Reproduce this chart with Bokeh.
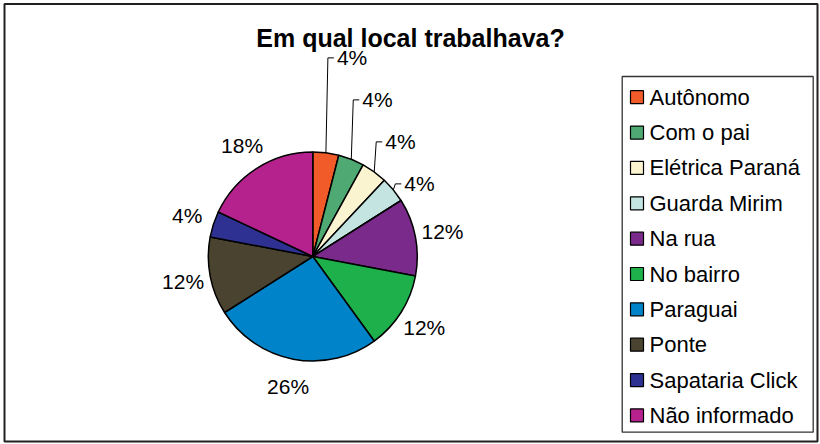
import math
from bokeh.plotting import figure
from bokeh.models import Range1d, ColumnDataSource
from bokeh.core.properties import value
from bokeh.embed import file_html
from bokeh.resources import INLINE

# ---------------- data ----------------
title = "Em qual local trabalhava?"
categories = ["Autônomo", "Com o pai", "Elétrica Paraná", "Guarda Mirim", "Na rua",
              "No bairro", "Paraguai", "Ponte", "Sapataria Click", "Não informado"]
percent = [4, 4, 4, 4, 12, 12, 26, 12, 4, 18]
colors = ["#F15A29", "#4FA972", "#FBF4D0", "#C4E4E1", "#7A2A8B",
          "#1EB04B", "#0083C9", "#4A4330", "#2E3192", "#B6228D"]

# ---------------- layout ----------------
W, H = 820, 444
FONT = "Liberation Sans"
CX, CY, R = 312.3, H - 256.0, 104.5
LABEL_R = R + 27.5

p = figure(width=W, height=H, x_range=Range1d(0, W), y_range=Range1d(0, H),
           output_backend="svg", toolbar_location=None, min_border=0,
           x_axis_location=None, y_axis_location=None)
p.grid.visible = False
p.outline_line_color = None
p.background_fill_color = "white"
p.border_fill_color = "white"

# chart-area border
p.quad(left=[4], right=[817], top=[H - 3.5], bottom=[H - 441], fill_alpha=0,
       line_color="#202020", line_width=2)

# wedges
total = float(sum(percent))
cum = 0.0
starts, ends, mids = [], [], []
for v in percent:
    a0 = cum / total
    cum += v
    a1 = cum / total
    starts.append(math.pi / 2 - 2 * math.pi * a1)
    ends.append(math.pi / 2 - 2 * math.pi * a0)
    mids.append(math.pi / 2 - 2 * math.pi * (a0 + a1) / 2)

src = ColumnDataSource(dict(start=starts, end=ends, color=colors, cat=categories, pct=percent))
p.wedge(x=CX, y=CY, radius=R, start_angle="start", end_angle="end", direction="anticlock",
        fill_color="color", line_color="black", line_width=1.5, source=src)

# labels
small = [i for i, v in enumerate(percent)
         if v < 5 and math.cos(mids[i]) > 0 and math.sin(mids[i]) > 0]
lab_x, lab_y, lab_t = [], [], []
for i, v in enumerate(percent):
    if i in small:
        continue
    lab_x.append(CX + LABEL_R * math.cos(mids[i]))
    lab_y.append(CY + LABEL_R * math.sin(mids[i]))
    lab_t.append(f"{v}%")

s_x, s_y, s_t, lead_xs, lead_ys = [], [], [], [], []
prev = None
for i in sorted(small, key=lambda k: mids[k]):
    ex = CX + R * math.cos(mids[i])
    ey = CY + R * math.sin(mids[i])
    ly = ey + 6 if prev is None else max(ey + 6, prev + 42)
    prev = ly
    lead_xs.append([ex, ex + 2, ex + 8])
    lead_ys.append([ey, ly, ly])
    s_x.append(ex + 11)
    s_y.append(ly)
    s_t.append(f"{percent[i]}%")

p.multi_line(xs=lead_xs, ys=lead_ys, line_color="black", line_width=1)
p.text(x=lab_x, y=lab_y, text=lab_t, text_font=value(FONT), text_font_size=value("21px"),
       text_align="center", text_baseline="middle", text_color="black")
p.text(x=s_x, y=s_y, text=s_t, text_font=value(FONT), text_font_size=value("21px"),
       text_align="left", text_baseline="middle", text_color="black")

# title
p.text(x=[410], y=[H - 37], text=[title], text_font=value(FONT), text_font_size=value("25px"),
       text_font_style="bold", text_align="center", text_baseline="middle", text_color="black")

# legend (manual)
LEG_L, LEG_R, LEG_T, LEG_B = 621.7, 812.7, H - 76, H - 431.7
p.quad(left=[LEG_L], right=[LEG_R], top=[LEG_T], bottom=[LEG_B],
       fill_color="white", line_color="#333333", line_width=1.3)
row_y = [H - (96.7 + k * 35.36) for k in range(len(categories))]
p.rect(x=[636.5] * len(categories), y=row_y, width=13, height=13,
       fill_color=colors, line_color="black", line_width=1.2)
p.text(x=[649] * len(categories), y=row_y, text=categories, text_font=value(FONT),
       text_font_size=value("22px"), text_align="left", text_baseline="middle", text_color="black")

open("out.html", "w").write(file_html(p, INLINE))
